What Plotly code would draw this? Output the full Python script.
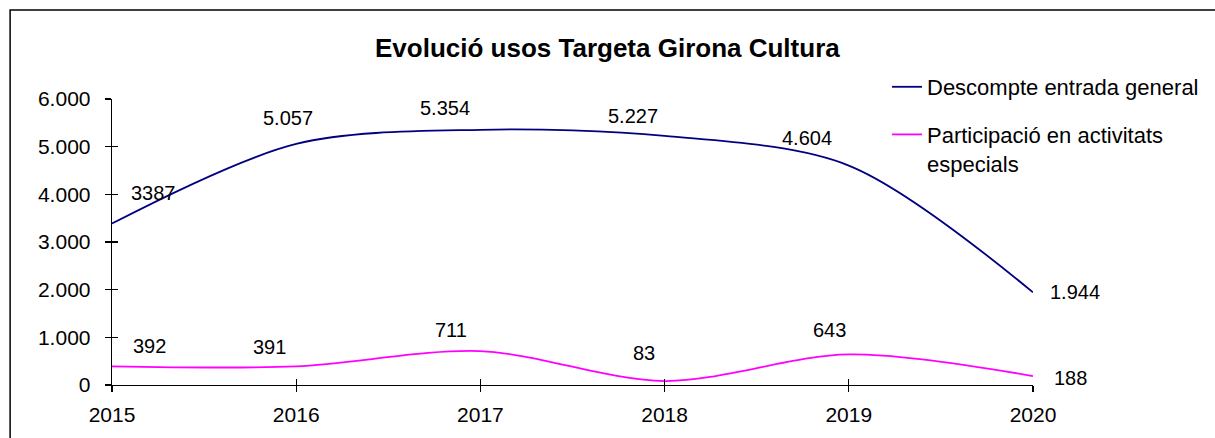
import plotly.graph_objects as go

years = [2015, 2016, 2017, 2018, 2019, 2020]
descompte = [3387, 5057, 5354, 5227, 4604, 1944]
participacio = [392, 391, 711, 83, 643, 188]
descompte_labels = ["3387", "5.057", "5.354", "5.227", "4.604", "1.944"]
participacio_labels = ["392", "391", "711", "83", "643", "188"]
y_ticks = [0, 1000, 2000, 3000, 4000, 5000, 6000]

name_a = "Descompte entrada general"
name_b = "Participació en activitats<br>especials"
title = "Evolució usos Targeta Girona Cultura"

# label offsets (pixels) for data labels
desc_shift = [(41, 31), (-8, 26), (-35, 22), (-32, 20), (-42, 28), (42, 0)]
part_shift = [(37, 20), (-27, 19), (-29, 21), (-21, 28), (-19, 24), (37, -2)]

FONT = "Arial, 'Liberation Sans', sans-serif"
BLUE = "#000080"
PINK = "#FF00FF"

fig = go.Figure()
fig.add_trace(go.Scatter(x=years, y=descompte, mode="lines", name=name_a,
                         line=dict(color=BLUE, width=1.8, shape="spline", smoothing=0.9),
                         legendgroup="a"))
fig.add_trace(go.Scatter(x=years, y=participacio, mode="lines", name=name_b,
                         line=dict(color=PINK, width=1.8, shape="spline", smoothing=0.9),
                         legendgroup="b"))
# empty helper trace so the overlay axes (inner half of the crossing ticks) are drawn
fig.add_trace(go.Scatter(x=[None], y=[None], xaxis="x2", yaxis="y2", mode="lines",
                         showlegend=False, hoverinfo="skip"))

annotations = []
for xv, yv, t, (dx, dy) in zip(years, descompte, descompte_labels, desc_shift):
    annotations.append(dict(x=xv, y=yv, xref="x", yref="y", text=t, showarrow=False,
                            xshift=dx, yshift=dy, font=dict(size=20, color="black", family=FONT)))
for xv, yv, t, (dx, dy) in zip(years, participacio, participacio_labels, part_shift):
    annotations.append(dict(x=xv, y=yv, xref="x", yref="y", text=t, showarrow=False,
                            xshift=dx, yshift=dy, font=dict(size=20, color="black", family=FONT)))
annotations.append(dict(x=(608 - 112) / 922, y=(385 - 48) / 286, xref="paper", yref="paper",
                        text="<b>" + title + "</b>", showarrow=False,
                        xanchor="center", yanchor="middle",
                        font=dict(size=26, color="black", family=FONT)))

axis_common = dict(showgrid=False, zeroline=False)

fig.update_layout(
    width=1215, height=438,
    margin=dict(l=112, r=181, t=99, b=53),
    paper_bgcolor="white", plot_bgcolor="white",
    font=dict(family=FONT, size=21, color="black"),
    separators=",.",
    showlegend=True,
    hovermode=False,
    legend=dict(x=(887 - 112) / 922, y=(385 - 66) / 286, xanchor="left", yanchor="top",
                font=dict(size=22, family=FONT, color="black"),
                bgcolor="rgba(0,0,0,0)", valign="top", tracegroupgap=16,
                itemwidth=30),
    xaxis=dict(range=[2015, 2020], tickvals=years, ticktext=[str(y) for y in years],
               showline=True, linecolor="black", linewidth=1.3,
               ticks="outside", ticklen=6, tickwidth=1.3, tickcolor="black",
               ticklabelstandoff=4, tickfont=dict(size=21), **axis_common),
    yaxis=dict(range=[0, 6000], tickvals=y_ticks, tickformat=",d",
               showline=True, linecolor="black", linewidth=1.3,
               ticks="outside", ticklen=6, tickwidth=1.3, tickcolor="black",
               ticklabelstandoff=10, tickfont=dict(size=21), **axis_common),
    xaxis2=dict(range=[2015, 2020], tickvals=years, overlaying="x", anchor="y",
                ticks="inside", ticklen=6, tickwidth=1.3, tickcolor="black",
                showticklabels=False, showline=False, **axis_common),
    yaxis2=dict(range=[0, 6000], tickvals=y_ticks, overlaying="y", anchor="x", side="left",
                ticks="inside", ticklen=6, tickwidth=1.3, tickcolor="black",
                showticklabels=False, showline=False, **axis_common),
    annotations=annotations,
    shapes=[dict(type="rect", xref="paper", yref="paper",
                 x0=(10 - 112) / 922, x1=(1240 - 112) / 922,
                 y0=(385 - 460) / 286, y1=(385 - 10) / 286,
                 line=dict(color="black", width=1.5), fillcolor="rgba(0,0,0,0)", layer="below")],
)

fig.write_html("out.html", config={"displayModeBar": False, "staticPlot": True},
               post_script="document.body.style.margin='0';document.body.style.overflow='hidden';")
